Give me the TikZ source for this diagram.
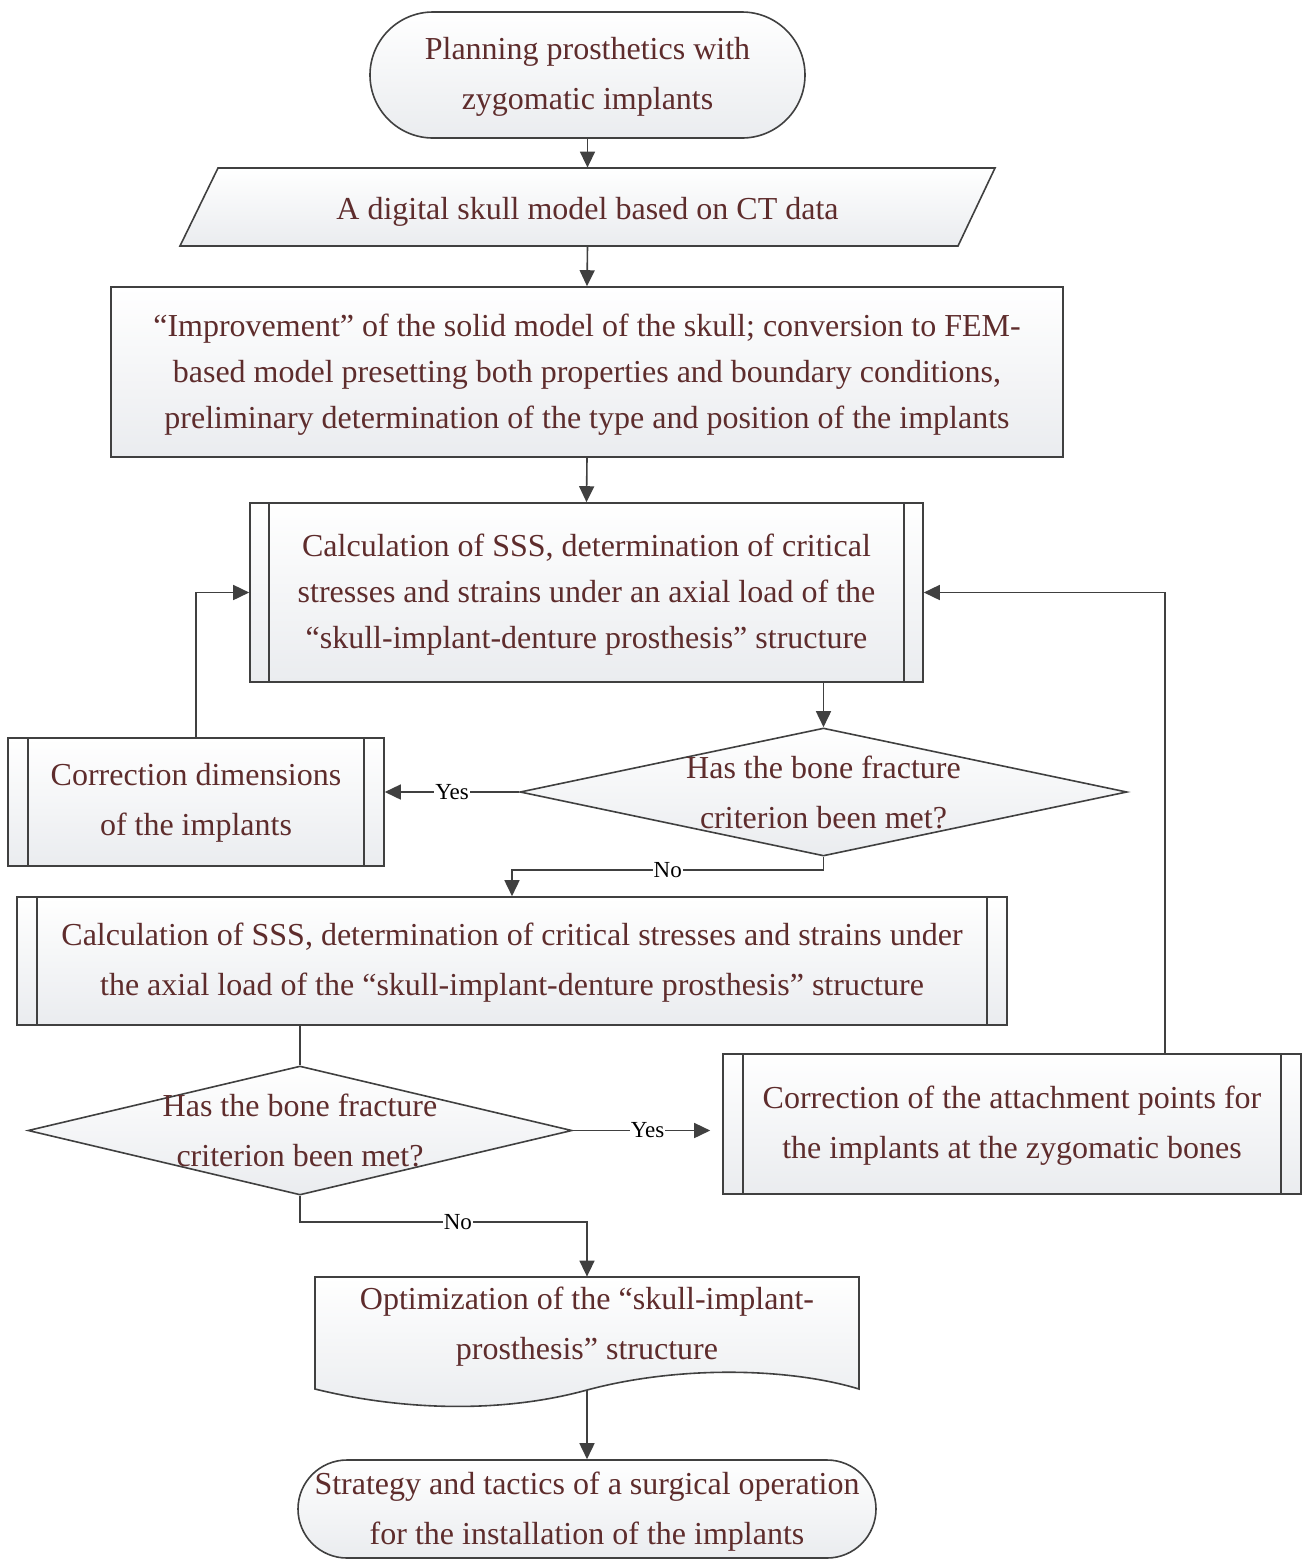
\documentclass[tikz,border=0pt]{standalone}
\usepackage{fontspec}
\setmainfont{Liberation Serif}
\usetikzlibrary{shapes.geometric,arrows.meta,calc}
\definecolor{linec}{RGB}{64,64,64}
\definecolor{textc}{RGB}{94,44,44}
\definecolor{fillbot}{RGB}{234,236,239}
\tikzset{
 shp/.style={draw=linec, line width=0.8pt, top color=white, bottom color=fillbot},
 txt/.style={text=textc, align=center, font=\fontsize{16}{25}\selectfont, inner sep=0pt},
 txtb/.style={txt, font=\fontsize{16}{23}\selectfont},
 flow/.style={draw=linec, line width=0.8pt, -{Triangle[length=8pt,width=7.5pt]}},
 plain/.style={draw=linec, line width=0.8pt},
 lbl/.style={fill=white, inner sep=0.6pt, font=\fontsize{11.5}{13}\selectfont, text=black},
 ghost/.style={inner sep=0pt, rectangle},
}
\begin{document}
\begin{tikzpicture}[x=0.5pt,y=-0.5pt]
\useasboundingbox (0,0) rectangle (1302,1560);

% start terminal
\node[shp, rectangle, rounded corners=31.5pt, minimum width=217.5pt, minimum height=63pt] (start) at (587.5,75) {};
\node[txt] (startt) at (587.5,77) {Planning prosthetics with\\zygomatic implants};

% data parallelogram
\node[ghost, minimum width=407.5pt, minimum height=39pt] (data) at (587.5,207) {};
\draw[shp] (218,168) -- (995,168) -- (958,246) -- (180,246) -- cycle;
\node[txt] (datat) at (587.5,212) {A digital skull model based on CT data};

% process
\node[shp, rectangle, minimum width=476pt, minimum height=85pt] (b3) at (587,372) {};
\node[txtb] (b3t) at (587,375) {``Improvement'' of the solid model of the skull; conversion to FEM-\\based model presetting both properties and boundary conditions,\\preliminary determination of the type and position of the implants};

% predefined process 1
\node[shp, rectangle, minimum width=336.5pt, minimum height=89.5pt] (b4) at (586.5,592.5) {};
\node[txtb] (b4t) at (586.5,594.5) {Calculation of SSS, determination of critical\\stresses and strains under an axial load of the\\``skull-implant-denture prosthesis'' structure};
\draw[plain] ([xshift=10pt]b4.north west) -- ([xshift=10pt]b4.south west);
\draw[plain] ([xshift=-10pt]b4.north east) -- ([xshift=-10pt]b4.south east);

% decision 1
\node[shp, diamond, inner sep=0pt, minimum width=303.5pt, minimum height=64pt] (d1) at (823.5,792) {};
\node[txt] (d1t) at (823.5,792) {Has the bone fracture\\criterion been met?};

% correction dimensions
\node[shp, rectangle, minimum width=188pt, minimum height=64pt] (b6) at (196,802) {};
\node[txt] (b6t) at (196,803) {Correction dimensions\\of the implants};
\draw[plain] ([xshift=10.5pt]b6.north west) -- ([xshift=10.5pt]b6.south west);
\draw[plain] ([xshift=-10.5pt]b6.north east) -- ([xshift=-10.5pt]b6.south east);

% predefined process 2
\node[shp, rectangle, minimum width=495pt, minimum height=64pt] (b7) at (512,961) {};
\node[txt] (b7t) at (512,963) {Calculation of SSS, determination of critical stresses and strains under\\the axial load of the ``skull-implant-denture prosthesis'' structure};
\draw[plain] ([xshift=10.5pt]b7.north west) -- ([xshift=10.5pt]b7.south west);
\draw[plain] ([xshift=-10.5pt]b7.north east) -- ([xshift=-10.5pt]b7.south east);

% decision 2
\node[shp, diamond, inner sep=0pt, minimum width=272pt, minimum height=64.5pt] (d2) at (300,1130.5) {};
\node[txt] (d2t) at (300,1130.5) {Has the bone fracture\\criterion been met?};

% correction attachment points
\node[shp, rectangle, minimum width=289pt, minimum height=70pt] (b9) at (1012,1124) {};
\node[txt] (b9t) at (1012,1126) {Correction of the attachment points for\\the implants at the zygomatic bones};
\draw[plain] ([xshift=10.5pt]b9.north west) -- ([xshift=10.5pt]b9.south west);
\draw[plain] ([xshift=-10.5pt]b9.north east) -- ([xshift=-10.5pt]b9.south east);

% document
\node[ghost, minimum width=272pt, minimum height=56pt] (doc) at (587,1333) {};
\draw[shp] (315,1277) -- (859,1277) -- (859,1389) .. controls (790,1368) and (680,1365) .. (587,1390) .. controls (500,1414) and (400,1410) .. (315,1389) -- cycle;
\node[txt] (doct) at (587,1327) {Optimization of the ``skull-implant-\\prosthesis'' structure};
\coordinate (docb) at (587,1390);

% end terminal
\node[shp, rectangle, rounded corners=24.5pt, minimum width=289pt, minimum height=49pt] (end) at (587,1509) {};
\node[txt] (endt) at (587,1512) {Strategy and tactics of a surgical operation\\for the installation of the implants};

% connectors
\draw[flow] (start.south) -- (data.north);
\draw[flow] (data.south) -- (b3.north);
\draw[flow] (b3.south) -- (b4.north);
\draw[flow] (d1.north |- b4.south) -- (d1.north);
\draw[flow] (d1.west) -- node[lbl]{Yes} (d1.west -| b6.east);
\draw[flow] (b6.north) |- (b4.west);
\draw[flow] (d1.south) -- ++(0,13) -| node[lbl, pos=0.25]{No} (b7.north);
\draw[plain] (d2.north |- b7.south) -- (d2.north);
\draw[flow, shorten >=6pt] (d2.east) -- node[lbl]{Yes} (d2.east -| b9.west);
\draw[flow] ([xshift=76.5pt]b9.north) |- (b4.east);
\draw[flow] (d2.south) -- ++(0,26) -| node[lbl, pos=0.275]{No} (doc.north);
\draw[flow] (docb) -- (end.north);
\end{tikzpicture}
\end{document}
